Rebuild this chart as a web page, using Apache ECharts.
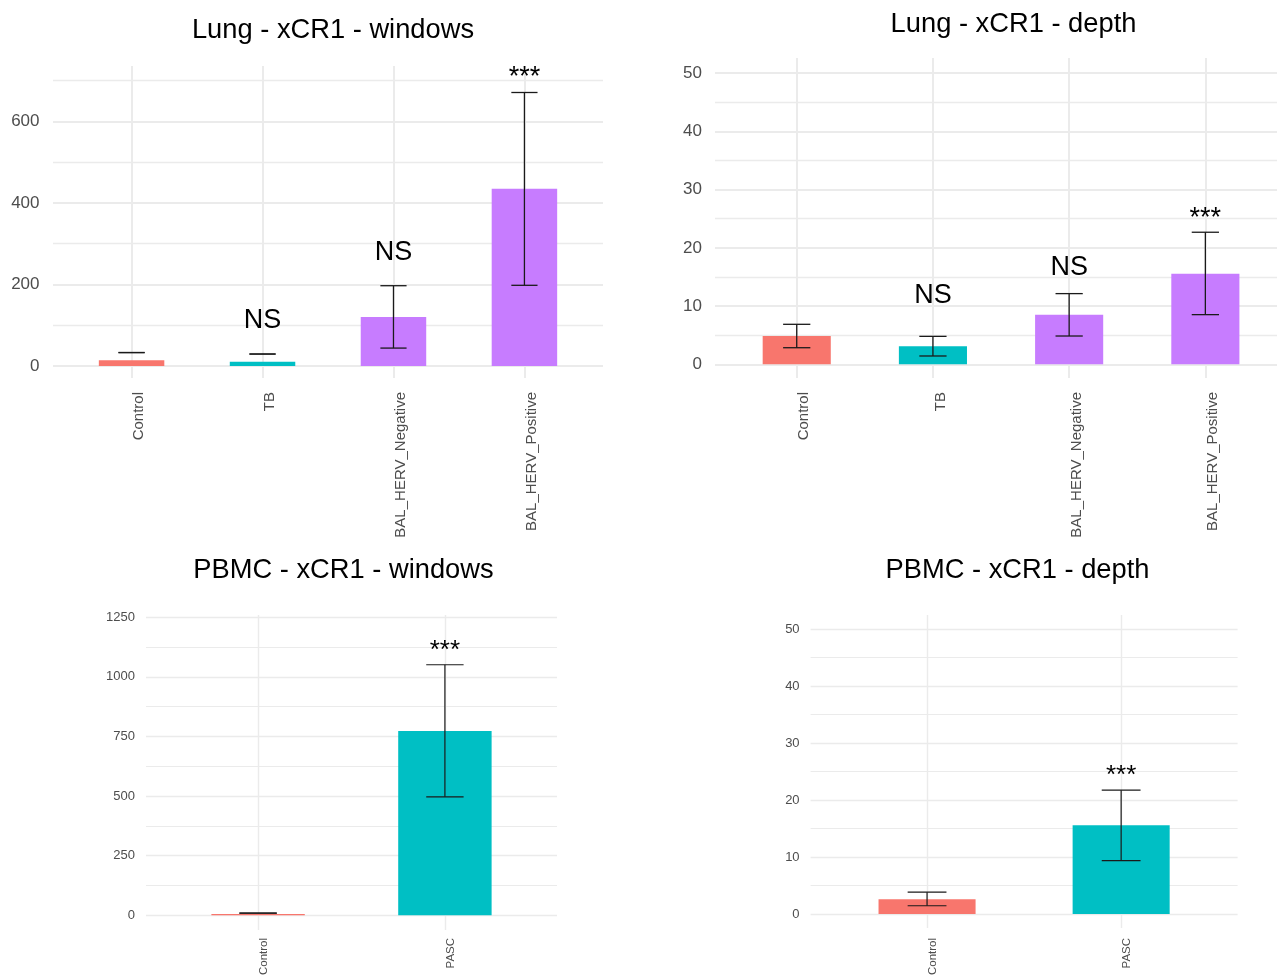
<!DOCTYPE html>
<html>
<head>
<meta charset="utf-8">
<script src="https://cdn.jsdelivr.net/npm/echarts@6/dist/echarts.min.js"></script>
<style>
html,body{margin:0;padding:0;background:#fff;}
#c{width:1277px;height:978px;}
</style>
</head>
<body>
<div id="c"></div>
<script>
// ---------- data ----------
const lungCats = ['Control', 'TB', 'BAL_HERV_Negative', 'BAL_HERV_Positive'];
const pbmcCats = ['Control', 'PASC'];

const lungWinMean = [14, 10.5, 120, 435];
const lungWinLow  = [33, 29.4, 44, 198];
const lungWinHigh = [33, 29.4, 197, 671];
const lungWinSig  = ['', 'NS', 'NS', '***'];
const lungWinSigY = [null, 111, 279, 708];
const lungWinTicks = [0, 200, 400, 600];
const lungWinMinor = [100, 300, 500, 700];

const lungDepMean = [4.86, 3.09, 8.53, 15.57];
const lungDepLow  = [2.85, 1.43, 4.86, 8.53];
const lungDepHigh = [6.87, 4.8, 12.14, 22.68];
const lungDepSig  = ['', 'NS', 'NS', '***'];
const lungDepSigY = [null, 11.8, 16.6, 25.1];
const lungDepTicks = [0, 10, 20, 30, 40, 50];
const lungDepMinor = [5, 15, 25, 35, 45];

const pbmcWinMean = [5, 773];
const pbmcWinLow  = [9, 497];
const pbmcWinHigh = [9, 1051];
const pbmcWinSig  = ['', '***'];
const pbmcWinSigY = [null, 1108];
const pbmcWinTicks = [0, 250, 500, 750, 1000, 1250];
const pbmcWinMinor = [125, 375, 625, 875, 1125];

const pbmcDepMean = [2.6, 15.6];
const pbmcDepLow  = [1.45, 9.36];
const pbmcDepHigh = [3.84, 21.75];
const pbmcDepSig  = ['', '***'];
const pbmcDepSigY = [null, 24.2];
const pbmcDepTicks = [0, 10, 20, 30, 40, 50];
const pbmcDepMinor = [5, 15, 25, 35, 45];

const titles = ['Lung - xCR1 - windows', 'Lung - xCR1 - depth', 'PBMC - xCR1 - windows', 'PBMC - xCR1 - depth'];

// ---------- styling ----------
const FONT = 'Liberation Sans, Arial, Helvetica, sans-serif';
const colorMap = {
  Control: '#F8766D', TB: '#00BFC4', BAL_HERV_Negative: '#C77CFF',
  BAL_HERV_Positive: '#C77CFF', PASC: '#00BFC4'
};
const GRID = '#ebebeb';

const panels = [
  { cats: lungCats, mean: lungWinMean, low: lungWinLow, high: lungWinHigh, sig: lungWinSig, sigY: lungWinSigY,
    ticks: lungWinTicks, minor: lungWinMinor, ymin: -29.4, ymax: 736, xmax: 3.6,
    grid: { left: 53, top: 66, width: 550, height: 312 },
    yFont: 17, yMargin: 13.5, xFont: 15, xMargin: 14, sigFont: 27, gw: 2, mw: 1.4, ew: 1.3,
    title: { x: 328, y: 12, size: 27.3 } },
  { cats: lungCats, mean: lungDepMean, low: lungDepLow, high: lungDepHigh, sig: lungDepSig, sigY: lungDepSigY,
    ticks: lungDepTicks, minor: lungDepMinor, ymin: -2.35, ymax: 52.6, xmax: 3.526,
    grid: { left: 715, top: 58, width: 562, height: 320 },
    yFont: 17, yMargin: 13, xFont: 15, xMargin: 14, sigFont: 27, gw: 2, mw: 1.4, ew: 1.3,
    title: { x: 1008.5, y: 6, size: 27.3 } },
  { cats: pbmcCats, mean: pbmcWinMean, low: pbmcWinLow, high: pbmcWinHigh, sig: pbmcWinSig, sigY: pbmcWinSigY,
    ticks: pbmcWinTicks, minor: pbmcWinMinor, ymin: -61.3, ymax: 1259.6, xmax: 1.6,
    grid: { left: 146, top: 615, width: 411, height: 317 },
    yFont: 13, yMargin: 11, xFont: 11.5, xMargin: 8, sigFont: 26, gw: 1.4, mw: 1.1, ew: 1.2,
    title: { x: 338.5, y: 552, size: 27.3 } },
  { cats: pbmcCats, mean: pbmcDepMean, low: pbmcDepLow, high: pbmcDepHigh, sig: pbmcDepSig, sigY: pbmcDepSigY,
    ticks: pbmcDepTicks, minor: pbmcDepMinor, ymin: -2.44, ymax: 52.5, xmax: 1.6,
    grid: { left: 810.6, top: 615, width: 427, height: 315 },
    yFont: 13, yMargin: 11, xFont: 11.5, xMargin: 10, sigFont: 26, gw: 1.4, mw: 1.1, ew: 1.2,
    title: { x: 1012.5, y: 552, size: 27.3 } }
];

const grid = [], xAxis = [], yAxis = [], series = [], title = [];

panels.forEach((p, k) => {
  const idxs = p.cats.map((c, i) => i);
  grid.push(Object.assign({ containLabel: false }, p.grid));
  title.push({
    text: titles[k], left: p.title.x, top: p.title.y, textAlign: 'center',
    textStyle: { fontFamily: FONT, fontSize: p.title.size, fontWeight: 'normal', color: '#000' }
  });
  xAxis.push({
    type: 'value', gridIndex: k, min: -0.6, max: p.xmax,
    axisLine: { show: false, onZero: false },
    axisTick: { show: false, customValues: idxs },
    axisLabel: {
      customValues: idxs, rotate: 90, margin: p.xMargin, fontSize: p.xFont, fontFamily: FONT,
      color: '#4d4d4d', verticalAlign: 'top',
      formatter: v => p.cats[Math.round(v)]
    },
    splitLine: { show: true, lineStyle: { color: GRID, width: p.gw } }
  });
  yAxis.push({
    type: 'value', gridIndex: k, min: p.ymin, max: p.ymax,
    axisLine: { show: false, onZero: false },
    axisTick: { show: false, customValues: p.ticks },
    axisLabel: { customValues: p.ticks, margin: p.yMargin, fontSize: p.yFont, fontFamily: FONT, color: '#4d4d4d',
      formatter: v => String(v) },
    splitLine: { show: true, lineStyle: { color: GRID, width: p.gw } }
  });
  yAxis.push({
    type: 'value', gridIndex: k, min: p.ymin, max: p.ymax, position: 'left',
    axisLine: { show: false, onZero: false },
    axisTick: { show: false, customValues: p.minor },
    axisLabel: { show: false, customValues: p.minor },
    splitLine: { show: true, lineStyle: { color: GRID, width: p.mw } }
  });
  series.push({
    type: 'bar', xAxisIndex: k, yAxisIndex: 2 * k, barWidth: '50%', silent: true, z: 2,
    data: p.cats.map((c, i) => ({ value: [i, p.mean[i]], itemStyle: { color: colorMap[c] } }))
  });
  series.push({
    type: 'custom', xAxisIndex: k, yAxisIndex: 2 * k, silent: true, z: 5,
    encode: { x: 0, y: [1, 2] },
    data: p.cats.map((c, i) => [i, p.low[i], p.high[i]]),
    renderItem: (params, api) => {
      const x = api.value(0);
      const a = api.coord([x, api.value(1)]);
      const b = api.coord([x, api.value(2)]);
      const hw = api.size([0.1, 0])[0];
      const st = { stroke: '#1a1a1a', lineWidth: p.ew };
      return {
        type: 'group', children: [
          { type: 'line', shape: { x1: a[0], y1: a[1], x2: b[0], y2: b[1] }, style: st },
          { type: 'line', shape: { x1: a[0] - hw, y1: a[1], x2: a[0] + hw, y2: a[1] }, style: st },
          { type: 'line', shape: { x1: b[0] - hw, y1: b[1], x2: b[0] + hw, y2: b[1] }, style: st }
        ]
      };
    }
  });
  const sigIdx = idxs.filter(i => p.sig[i]);
  series.push({
    type: 'custom', xAxisIndex: k, yAxisIndex: 2 * k, silent: true, z: 6,
    encode: { x: 0, y: 1 },
    data: sigIdx.map(i => [i, p.sigY[i]]),
    renderItem: (params, api) => {
      const pt = api.coord([api.value(0), api.value(1)]);
      const txt = p.sig[sigIdx[params.dataIndex]];
      return {
        type: 'text', x: pt[0], y: pt[1],
        style: { text: txt, fill: '#000', font: p.sigFont + 'px ' + FONT, textAlign: 'center', textVerticalAlign: 'middle' }
      };
    }
  });
});

const chart = echarts.init(document.getElementById('c'), null, { renderer: 'canvas' });
chart.setOption({ animation: false, backgroundColor: '#fff', title, grid, xAxis, yAxis, series });
</script>
</body>
</html>
